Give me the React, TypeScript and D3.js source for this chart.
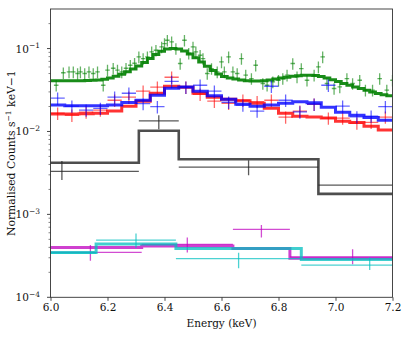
import React, { useEffect, useRef } from 'react';
import * as d3 from 'd3';

// green spectrum: fine bins (keV centres) and normalised counts
const greenEnergy = [
  6.020, 6.045, 6.065, 6.080, 6.095, 6.105, 6.120, 6.135, 6.150, 6.165,
  6.185, 6.200, 6.220, 6.235, 6.250, 6.265, 6.280, 6.295, 6.310, 6.325,
  6.340, 6.355, 6.370, 6.390, 6.400, 6.410, 6.425, 6.440, 6.455, 6.470,
  6.485, 6.500, 6.510, 6.525, 6.535, 6.550, 6.565, 6.585, 6.600, 6.610,
  6.625, 6.640, 6.655, 6.670, 6.685, 6.705, 6.720, 6.745, 6.760, 6.780,
  6.800, 6.815, 6.830, 6.850, 6.865, 6.880, 6.900, 6.925, 6.940, 6.955,
  6.970, 6.995, 7.015, 7.040, 7.060, 7.085, 7.105, 7.130, 7.155, 7.180, 7.200,
];
const greenCounts = [
  0.0361, 0.0511, 0.0522, 0.0522, 0.0500, 0.0522, 0.0500, 0.0522, 0.0500, 0.0522,
  0.0361, 0.0548, 0.0579, 0.0548, 0.0522, 0.0579, 0.0629, 0.0665, 0.0792, 0.0758,
  0.0792, 0.0910, 0.0954, 0.1045, 0.1148, 0.1259, 0.1201, 0.1000, 0.0660, 0.1259,
  0.0878, 0.1045, 0.0910, 0.0830, 0.0758, 0.0500, 0.0574, 0.0522, 0.0690, 0.0522,
  0.0792, 0.0522, 0.0500, 0.0758, 0.0477, 0.0435, 0.0629, 0.0379, 0.0361, 0.0396,
  0.0415, 0.0435, 0.0477, 0.0660, 0.0455, 0.0574, 0.0415, 0.0477, 0.0600, 0.0792,
  0.0379, 0.0330, 0.0345, 0.0435, 0.0379, 0.0415, 0.0315, 0.0315, 0.0435, 0.0315, 0.0415,
];
// green model, 0.02 keV bins starting at 6.0
const greenModel = [
  0.0410, 0.0410, 0.0408, 0.0408, 0.0410, 0.0410, 0.0412, 0.0415, 0.0418, 0.0425,
  0.0440, 0.0462, 0.0490, 0.0525, 0.0565, 0.0615, 0.0680, 0.0760, 0.0850, 0.0930,
  0.0985, 0.1005, 0.0990, 0.0935, 0.0860, 0.0775, 0.0690, 0.0610, 0.0545, 0.0495,
  0.0460, 0.0440, 0.0428, 0.0418, 0.0410, 0.0405, 0.0405, 0.0410, 0.0418, 0.0428,
  0.0440, 0.0452, 0.0462, 0.0470, 0.0475, 0.0477, 0.0472, 0.0460, 0.0440, 0.0420,
  0.0400, 0.0380, 0.0362, 0.0345, 0.0330, 0.0315, 0.0300, 0.0288, 0.0278, 0.0270,
];

// red and blue spectra: 0.05 keV bins starting at 6.0
const redCounts = [
  0.0166, 0.0157, 0.0171, 0.0181, 0.0238, 0.0259, 0.0306, 0.0342, 0.0451, 0.0342,
  0.0281, 0.0232, 0.0219, 0.0238, 0.0229, 0.0238, 0.0149, 0.0176, 0.0213, 0.0145,
  0.0145, 0.0126, 0.0129, 0.0149,
];
const redModel = [
  0.0162, 0.0162, 0.0164, 0.0166, 0.0176, 0.0202, 0.0232, 0.0289, 0.0351, 0.0342,
  0.0289, 0.0259, 0.0245, 0.0235, 0.0219, 0.0191, 0.0166, 0.0153, 0.0149, 0.0145,
  0.0133, 0.0128, 0.0116, 0.0104,
];
const blueCounts = [
  0.0252, 0.0202, 0.0181, 0.0190, 0.0259, 0.0289, 0.0217, 0.0199, 0.0401, 0.0342,
  0.0361, 0.0306, 0.0225, 0.0208, 0.0176, 0.0351, 0.0238, 0.0172, 0.0213, 0.0361,
  0.0202, 0.0150, 0.0153, 0.0199,
];
const blueModel = [
  0.0208, 0.0205, 0.0205, 0.0205, 0.0208, 0.0224, 0.0238, 0.0274, 0.0332, 0.0345,
  0.0306, 0.0270, 0.0245, 0.0213, 0.0202, 0.0208, 0.0219, 0.0229, 0.0222, 0.0196,
  0.0171, 0.0157, 0.0147, 0.0137,
];

// black spectrum: wide bins
const blackLo = [5.77, 6.31, 6.45, 6.94];
const blackHi = [6.31, 6.45, 6.94, 7.40];
const blackEnergy = [6.04, 6.38, 6.695, 7.25];
const blackCounts = [0.00330, 0.01340, 0.00371, 0.00225];
const blackLow = [0.00259, 0.01066, 0.00296, 0.00190];
const blackHigh = [0.00439, 0.01570, 0.00451, 0.00270];
const blackModel = [0.00419, 0.01020, 0.00463, 0.00177];

// magenta spectrum
const magentaLo = [5.96, 6.32, 6.64, 6.84];
const magentaHi = [6.32, 6.64, 6.84, 7.28];
const magentaEnergy = [6.14, 6.48, 6.74, 7.06];
const magentaCounts = [3.48e-4, 4.35e-4, 6.60e-4, 3.08e-4];
const magentaLow = [2.76e-4, 3.48e-4, 5.28e-4, 2.50e-4];
const magentaHigh = [4.27e-4, 5.28e-4, 7.43e-4, 3.79e-4];
const magentaModel = [4.00e-4, 4.15e-4, 3.89e-4, 2.95e-4];

// cyan spectrum
const cyanLo = [5.70, 6.16, 6.44, 6.88];
const cyanHi = [6.16, 6.44, 6.88, 7.36];
const cyanEnergy = [5.93, 6.30, 6.66, 7.12];
const cyanCounts = [3.42e-4, 4.90e-4, 2.92e-4, 2.45e-4];
const cyanLow = [3.00e-4, 3.96e-4, 2.24e-4, 2.13e-4];
const cyanHigh = [3.90e-4, 5.90e-4, 3.45e-4, 3.03e-4];
const cyanModel = [3.48e-4, 4.39e-4, 3.89e-4, 2.85e-4];

const xTicks = [6.0, 6.2, 6.4, 6.6, 6.8, 7.0, 7.2];
const yDecades = [-4, -3, -2, -1];

const Chart = () => {
  const ref = useRef<SVGSVGElement>(null);

  useEffect(() => {
    const width = 407;
    const height = 337;
    const margin = { top: 9, right: 14.5, bottom: 39.7, left: 50.5 };
    const font = '"DejaVu Serif", serif';

    const svg = d3.select(ref.current);
    svg.selectAll('*').remove();

    const x = d3.scaleLinear().domain([6.0, 7.2]).range([margin.left, width - margin.right]);
    const y = d3.scaleLog().domain([1e-4, 0.3]).range([height - margin.bottom, margin.top]);

    svg.append('defs').append('clipPath').attr('id', 'plot-clip')
      .append('rect')
      .attr('x', margin.left).attr('y', margin.top)
      .attr('width', width - margin.left - margin.right)
      .attr('height', height - margin.top - margin.bottom);

    const plot = svg.append('g').attr('clip-path', 'url(#plot-clip)');

    const stepLine = d3.line<[number, number]>().x(d => x(d[0])).y(d => y(d[1]));

    const drawModel = (lo: number[], hi: number[], vals: number[], color: string, w: number, op: number) => {
      const pts: [number, number][] = [];
      vals.forEach((v, i) => { pts.push([lo[i], v]); pts.push([hi[i], v]); });
      plot.append('path')
        .attr('d', stepLine(pts))
        .attr('fill', 'none')
        .attr('stroke', color)
        .attr('stroke-width', w)
        .attr('stroke-opacity', op);
    };

    const drawData = (lo: number[], hi: number[], e: number[], v: number[], low: number[], high: number[], color: string, op: number) => {
      const g = plot.append('g').attr('stroke', color).attr('stroke-width', 1.3).attr('stroke-opacity', op);
      g.selectAll('line.h').data(v).enter().append('line')
        .attr('x1', (_, i) => x(lo[i])).attr('x2', (_, i) => x(hi[i]))
        .attr('y1', d => y(d)).attr('y2', d => y(d));
      g.selectAll('line.v').data(v).enter().append('line')
        .attr('x1', (_, i) => x(e[i])).attr('x2', (_, i) => x(e[i]))
        .attr('y1', (_, i) => y(low[i])).attr('y2', (_, i) => y(high[i]));
    };

    // green
    const gHw = 0.008;
    const gErr = 0.16;
    drawData(
      greenEnergy.map(e => e - gHw), greenEnergy.map(e => e + gHw), greenEnergy, greenCounts,
      greenCounts.map(c => c * (1 - gErr)), greenCounts.map(c => c * (1 + gErr)),
      '#008000', 0.6);
    drawModel(
      greenModel.map((_, i) => 6.0 + i * 0.02), greenModel.map((_, i) => 6.0 + (i + 1) * 0.02),
      greenModel, '#008000', 3, 0.9);

    // red and blue
    const rbErr = 0.17;
    const rbLo = redCounts.map((_, i) => 6.0 + i * 0.05);
    const rbHi = redCounts.map((_, i) => 6.0 + (i + 1) * 0.05);
    const rbE = redCounts.map((_, i) => 6.025 + i * 0.05);
    drawData(rbLo, rbHi, rbE, redCounts,
      redCounts.map(c => c * (1 - rbErr)), redCounts.map(c => c * (1 + rbErr)), '#ff0000', 0.6);
    drawModel(rbLo, rbHi, redModel, '#ff0000', 3, 0.8);
    drawData(rbLo, rbHi, rbE, blueCounts,
      blueCounts.map(c => c * (1 - rbErr)), blueCounts.map(c => c * (1 + rbErr)), '#0000ff', 0.6);
    drawModel(rbLo, rbHi, blueModel, '#0000ff', 3, 0.8);

    // black
    drawData(blackLo, blackHi, blackEnergy, blackCounts, blackLow, blackHigh, '#222', 0.75);
    drawModel(blackLo, blackHi, blackModel, '#222', 2.6, 0.8);

    // magenta and cyan
    drawData(magentaLo, magentaHi, magentaEnergy, magentaCounts, magentaLow, magentaHigh, '#bf00bf', 0.7);
    drawModel(magentaLo, magentaHi, magentaModel, '#bf00bf', 3, 0.75);
    drawData(cyanLo, cyanHi, cyanEnergy, cyanCounts, cyanLow, cyanHigh, '#00bfbf', 0.7);
    drawModel(cyanLo, cyanHi, cyanModel, '#00bfbf', 3, 0.75);

    // frame
    svg.append('rect')
      .attr('x', margin.left).attr('y', margin.top)
      .attr('width', width - margin.left - margin.right)
      .attr('height', height - margin.top - margin.bottom)
      .attr('fill', 'none').attr('stroke', '#333').attr('stroke-width', 0.9);

    // x axis
    const xAxis = d3.axisBottom(x).tickValues(xTicks).tickFormat(d3.format('.1f')).tickSizeOuter(0).tickSize(3.5).tickPadding(3);
    const xg = svg.append('g')
      .attr('transform', `translate(0,${height - margin.bottom})`)
      .call(xAxis);
    xg.select('.domain').remove();
    xg.selectAll('line').attr('stroke', '#333').attr('stroke-width', 0.9);
    xg.selectAll('text').attr('font-family', font).attr('font-size', 10.5).attr('fill', '#111');

    // y axis (log, manual ticks)
    const yg = svg.append('g');
    const minor: number[] = [];
    yDecades.forEach(p => {
      for (let m = 2; m <= 9; m++) {
        const v = m * Math.pow(10, p);
        if (v <= 0.3) minor.push(v);
      }
    });
    yg.selectAll('line.minor').data(minor).enter().append('line')
      .attr('x1', margin.left - 2).attr('x2', margin.left)
      .attr('y1', d => y(d)).attr('y2', d => y(d))
      .attr('stroke', '#333').attr('stroke-width', 0.6);
    yg.selectAll('line.major').data(yDecades).enter().append('line')
      .attr('x1', margin.left - 3.5).attr('x2', margin.left)
      .attr('y1', d => y(Math.pow(10, d))).attr('y2', d => y(Math.pow(10, d)))
      .attr('stroke', '#333').attr('stroke-width', 0.9);
    const labels = yg.selectAll('text').data(yDecades).enter().append('text')
      .attr('x', 40).attr('y', d => y(Math.pow(10, d)) + 4)
      .attr('text-anchor', 'end')
      .attr('font-family', font).attr('font-size', 10.5).attr('fill', '#111');
    labels.append('tspan').text('10');
    labels.append('tspan').attr('dy', -4.8).attr('font-size', 7.5).text(d => `\u2212${-d}`);

    // axis titles
    svg.append('text')
      .attr('x', (margin.left + width - margin.right) / 2).attr('y', 327)
      .attr('text-anchor', 'middle')
      .attr('font-family', font).attr('font-size', 10.5).attr('fill', '#111')
      .text('Energy (keV)');

    const yl = svg.append('text')
      .attr('transform', `translate(15,${(margin.top + height - margin.bottom) / 2}) rotate(-90)`)
      .attr('text-anchor', 'middle')
      .attr('font-family', font).attr('font-size', 10.8).attr('fill', '#111');
    yl.append('tspan').text('Normalised Counts s');
    yl.append('tspan').attr('dy', -4.3).attr('font-size', 7.6).text('\u22121');
    yl.append('tspan').attr('dy', 4.3).text(' keV\u22121');
  }, []);

  return (
    <svg ref={ref} width={407} height={337}
      style={{ position: 'absolute', left: 0, top: 0, background: '#fff' }} />
  );
};

export default function App() {
  return <Chart />;
}
